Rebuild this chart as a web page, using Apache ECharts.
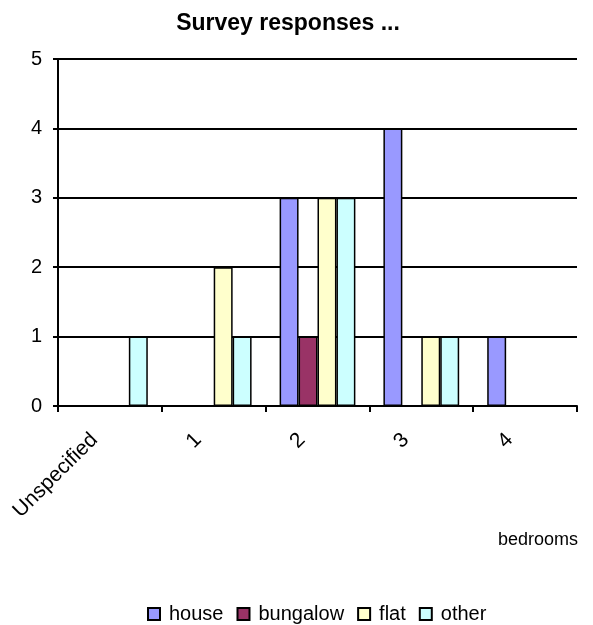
<!DOCTYPE html>
<html><head><meta charset="utf-8">
<script src="https://cdn.jsdelivr.net/npm/echarts@6/dist/echarts.min.js"></script>
<style>html,body{margin:0;padding:0;background:#fff}#c{width:593px;height:625px}</style>
</head><body><div id="c"></div>
<script>
const categories = ['Unspecified', '1', '2', '3', '4'];
const house = [0, 0, 3, 4, 1];
const bungalow = [0, 0, 1, 0, 0];
const flat = [0, 2, 3, 1, 0];
const other = [1, 1, 3, 1, 0];
const yTicks = [0, 1, 2, 3, 4, 5];

const font = 'Liberation Sans, Arial, sans-serif';
const colors = {house: '#9999FF', bungalow: '#993366', flat: '#FFFFCC', other: '#CCFFFF'};
function mk(name, data) {
  return {
    name: name, type: 'bar', data: data.map(v => v === 0 ? null : v),
    barGap: '0%', barCategoryGap: '27%',
    itemStyle: {color: colors[name], borderColor: '#000', borderWidth: 1.5},
    emphasis: {disabled: true}
  };
}
const chart = echarts.init(document.getElementById('c'));
chart.setOption({
  animation: false,
  title: [
    {text: 'Survey responses ...', left: 283, textAlign: 'center', top: 7, textStyle: {fontFamily: font, fontSize: 23, fontWeight: 'bold', color: '#000'}},
    {text: 'bedrooms', right: 10, top: 526, textStyle: {fontFamily: font, fontSize: 18, fontWeight: 'normal', color: '#000'}}
  ],
  legend: {
    top: 599, left: 142, itemWidth: 12, itemHeight: 12, itemGap: 13, icon: 'rect',
    textStyle: {fontFamily: font, fontSize: 20, color: '#000', padding: [0, 0, 0, 4]},
    data: ['house', 'bungalow', 'flat', 'other']
  },
  grid: {left: 58, right: 16, top: 59, bottom: 219, containLabel: false},
  xAxis: {
    type: 'category', data: categories, boundaryGap: true,
    axisLine: {lineStyle: {color: '#000', width: 2}},
    axisTick: {show: true, length: 6, lineStyle: {color: '#000', width: 2}},
    axisLabel: {rotate: 45, margin: 15, fontFamily: font, fontSize: 21, color: '#000', padding: [0, 22, 0, 0]}
  },
  yAxis: {
    type: 'value', min: yTicks[0], max: yTicks[yTicks.length - 1], interval: 1,
    axisLine: {show: true, lineStyle: {color: '#000', width: 2}},
    axisTick: {show: true, length: 5, lineStyle: {color: '#000', width: 2}},
    axisLabel: {margin: 16, fontFamily: font, fontSize: 20, color: '#000'},
    splitLine: {lineStyle: {color: '#000', width: 2}}
  },
  series: [mk('house', house), mk('bungalow', bungalow), mk('flat', flat), mk('other', other)]
});
</script></body></html>
